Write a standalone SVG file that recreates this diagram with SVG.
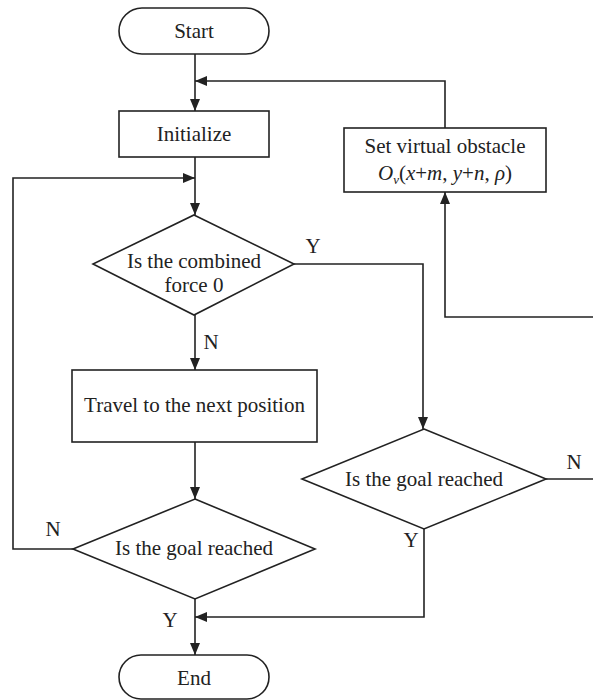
<svg xmlns="http://www.w3.org/2000/svg" width="593" height="700" viewBox="0 0 593 700" font-family="'Liberation Serif', 'Times New Roman', serif" font-size="21">
<style>
.s{fill:#fff;stroke:#222;stroke-width:1.6}
.c{fill:none;stroke:#222;stroke-width:1.6}
.t{font-family:'Liberation Serif','Times New Roman',serif;font-size:21px;fill:#222;text-anchor:middle}
</style>
<defs>
<marker id="a" viewBox="0 0 12 10" refX="12" refY="5" markerWidth="12" markerHeight="10" markerUnits="userSpaceOnUse" orient="auto">
<path d="M0,0 L12,5 L0,10 Z" fill="#222"/>
</marker>
</defs>
<g id="connectors">
<path class="c" d="M195,54 V111" marker-end="url(#a)"/>
<path class="c" d="M445,128 V81 H195" marker-end="url(#a)"/>
<path class="c" d="M195,157 V215" marker-end="url(#a)"/>
<path class="c" d="M73,549 H13 V178 H195" marker-end="url(#a)"/>
<path class="c" d="M195,315 V370" marker-end="url(#a)"/>
<path class="c" d="M294,264 H423 V429" marker-end="url(#a)"/>
<path class="c" d="M195,442 V499" marker-end="url(#a)"/>
<path class="c" d="M546,479 H593"/>
<path class="c" d="M593,317 H445 V192" marker-end="url(#a)"/>
<path class="c" d="M424,529 V617 H195" marker-end="url(#a)"/>
<path class="c" d="M195,599 V655" marker-end="url(#a)"/>
<text x="313" y="253" class="t">Y</text>
<text x="211" y="349" class="t">N</text>
<text x="574" y="469" class="t">N</text>
<text x="411" y="547" class="t">Y</text>
<text x="53" y="536" class="t">N</text>
<text x="170" y="627" class="t">Y</text>
</g>
<g id="start">
<rect class="s" x="119" y="8" width="150" height="46" rx="23"/>
<text x="194" y="38" class="t">Start</text>
</g>
<g id="initialize">
<rect class="s" x="119" y="111" width="150" height="46"/>
<text x="194" y="141" class="t">Initialize</text>
</g>
<g id="virtual">
<rect class="s" x="344" y="128" width="202" height="64"/>
<text x="445" y="153" class="t">Set virtual obstacle</text>
<text x="445" y="180" class="t"><tspan font-style="italic">O</tspan><tspan font-style="italic" font-size="13" dy="4">v</tspan><tspan dy="-4">(</tspan><tspan font-style="italic">x</tspan>+<tspan font-style="italic">m</tspan>, <tspan font-style="italic">y</tspan>+<tspan font-style="italic">n</tspan>, <tspan font-style="italic">ρ</tspan>)</text>
</g>
<g id="force">
<path class="s" d="M194,215 L294,264 L194,315 L93,264 Z"/>
<text x="194" y="268" class="t">Is the combined</text>
<text x="194" y="292" class="t">force 0</text>
</g>
<g id="travel">
<rect class="s" x="72" y="370" width="245" height="72"/>
<text x="194.5" y="412" class="t">Travel to the next position</text>
</g>
<g id="goal1">
<path class="s" d="M195,499 L315,549 L195,599 L73,549 Z"/>
<text x="194" y="555" class="t">Is the goal reached</text>
</g>
<g id="goal2">
<path class="s" d="M424,429 L546,479 L424,529 L302,479 Z"/>
<text x="424" y="486" class="t">Is the goal reached</text>
</g>
<g id="end">
<rect class="s" x="119" y="655" width="150" height="44" rx="22"/>
<text x="194" y="685" class="t">End</text>
</g>
</svg>
